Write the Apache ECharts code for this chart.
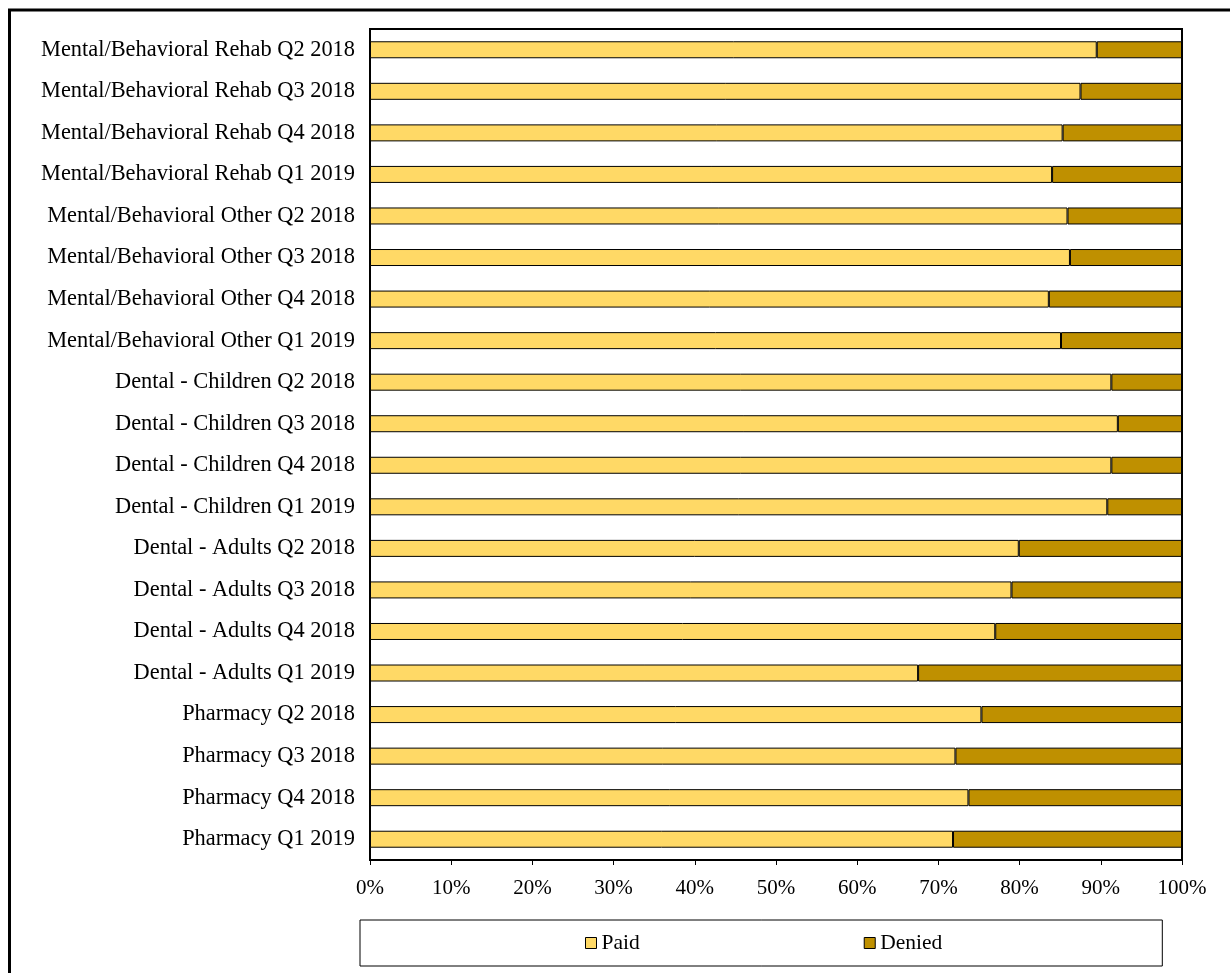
<!DOCTYPE html>
<html>
<head>
<meta charset="utf-8">
<script src="https://cdn.jsdelivr.net/npm/echarts@6/dist/echarts.min.js"></script>
<style>
  html, body { margin: 0; padding: 0; background: #fff; }
  #chart { width: 1230px; height: 973px; }
</style>
</head>
<body>
<div id="chart"></div>
<script>
const categories = [
  'Mental/Behavioral Rehab Q2 2018',
  'Mental/Behavioral Rehab Q3 2018',
  'Mental/Behavioral Rehab Q4 2018',
  'Mental/Behavioral Rehab Q1 2019',
  'Mental/Behavioral Other Q2 2018',
  'Mental/Behavioral Other Q3 2018',
  'Mental/Behavioral Other Q4 2018',
  'Mental/Behavioral Other Q1 2019',
  'Dental - Children Q2 2018',
  'Dental - Children Q3 2018',
  'Dental - Children Q4 2018',
  'Dental - Children Q1 2019',
  'Dental - Adults Q2 2018',
  'Dental - Adults Q3 2018',
  'Dental - Adults Q4 2018',
  'Dental - Adults Q1 2019',
  'Pharmacy Q2 2018',
  'Pharmacy Q3 2018',
  'Pharmacy Q4 2018',
  'Pharmacy Q1 2019'
];
const paid   = [89.5, 87.5, 85.3, 84.0, 85.9, 86.2, 83.6, 85.1, 91.3, 92.1, 91.3, 90.8, 79.9, 79.0, 77.0, 67.5, 75.3, 72.1, 73.7, 71.8];
const denied = [10.5, 12.5, 14.7, 16.0, 14.1, 13.8, 16.4, 14.9, 8.7, 7.9, 8.7, 9.2, 20.1, 21.0, 23.0, 32.5, 24.7, 27.9, 26.3, 28.2];
const seriesNames = ['Paid', 'Denied'];
const xTicks = { min: 0, max: 100, interval: 10 };

const FONT = '"Liberation Serif", "Times New Roman", serif';
const chart = echarts.init(document.getElementById('chart'), null, { renderer: 'canvas' });

chart.setOption({
  animation: false,
  backgroundColor: '#fff',
  textStyle: { fontFamily: FONT, color: '#000' },
  graphic: [{
    type: 'rect',
    shape: { x: 9.5, y: 10, width: 1240, height: 1000 },
    style: { fill: 'none', stroke: '#000', lineWidth: 3 },
    silent: true
  }],
  grid: {
    left: 370, right: 48, top: 29, bottom: 113,
    show: true, borderColor: '#000', borderWidth: 2, backgroundColor: '#fff'
  },
  legend: {
    data: seriesNames,
    left: 360, top: 920,
    padding: [12, 220, 12, 225],
    itemGap: 224,
    itemWidth: 11, itemHeight: 11,
    icon: 'rect',
    borderColor: '#000', borderWidth: 1,
    backgroundColor: '#fff',
    textStyle: { fontFamily: FONT, fontSize: 21.5, color: '#000', padding: [0, 0, 0, 0] },
    itemStyle: { borderColor: '#000', borderWidth: 1 }
  },
  xAxis: {
    type: 'value',
    min: xTicks.min, max: xTicks.max, interval: xTicks.interval,
    axisLine: { show: true, lineStyle: { color: '#000', width: 2 } },
    axisTick: { show: true, length: 5, lineStyle: { color: '#000', width: 1 } },
    splitLine: { show: false },
    axisLabel: { formatter: '{value}%', fontFamily: FONT, fontSize: 21, color: '#000', margin: 18 }
  },
  yAxis: {
    type: 'category',
    inverse: true,
    data: categories,
    axisLine: { show: true, lineStyle: { color: '#000', width: 2 } },
    axisTick: { show: false },
    axisLabel: { fontFamily: FONT, fontSize: 22.4, color: '#000', margin: 15 }
  },
  series: [
    {
      name: seriesNames[0], type: 'bar', stack: 'total', data: paid,
      barWidth: 17,
      itemStyle: { color: '#FFD966', borderColor: '#000', borderWidth: 1 }
    },
    {
      name: seriesNames[1], type: 'bar', stack: 'total', data: denied,
      barWidth: 17,
      itemStyle: { color: '#BF9000', borderColor: '#000', borderWidth: 1 }
    }
  ]
});
</script>
</body>
</html>
